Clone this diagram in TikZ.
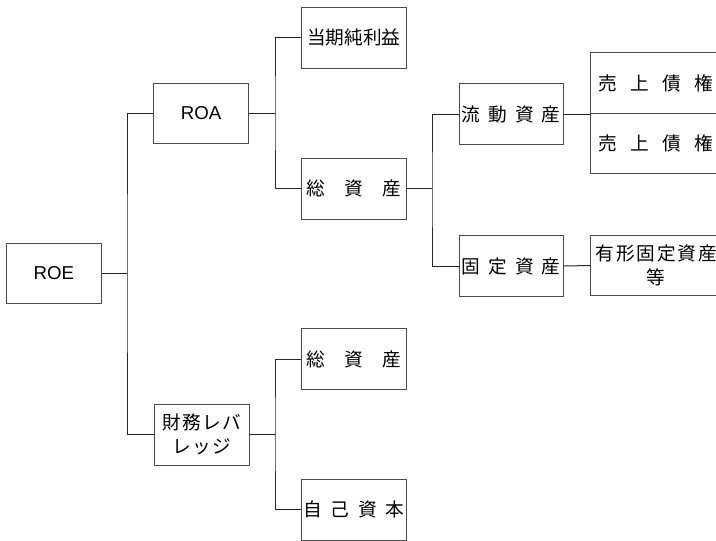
\documentclass[tikz,border=0pt]{standalone}
\usepackage{fontspec}
\setmainfont{Noto Sans CJK JP}
\newfontfamily\latfont{Liberation Sans}
\begin{document}
\begin{tikzpicture}[x=0.75pt,y=-0.75pt,
  box/.style={draw=black!70, line width=0.75pt, rectangle, inner sep=0pt, align=center,
              font=\fontsize{14pt}{18pt}\selectfont},
  lvtwo/.style={box, minimum width=71.25pt, minimum height=45.6pt},
  lvthree/.style={box, minimum width=78.2pt, minimum height=45.75pt},
  lvfour/.style={box, minimum width=78pt, minimum height=45.4pt},
  lvfive/.style={box, anchor=west, minimum height=45.5pt},
  conn/.style={draw=black!85, line width=0.75pt}]
\clip (0,0) rectangle (716,540);
\fill[white] (0,0) rectangle (716,540);

% level 1
\node[lvtwo, minimum height=45.2pt] (roe) at (53.8,273.2) {\latfont ROE};
% level 2
\node[lvtwo] (roa) at (201.2,113.5) {\latfont ROA};
\node[lvtwo] (lev) at (201.5,434.7) {財\kern1pt 務\kern1pt レ\kern1pt バ\\レ\kern1pt ッ\kern1pt ジ};
% level 3
\node[lvthree] (np)  at (353.9,37.8)  {当期純利益};
\node[lvthree] (ta1) at (353.9,188.8) {総\kern14.5pt 資\kern14.5pt 産};
\node[lvthree] (ta2) at (353.9,359.0) {総\kern14.5pt 資\kern14.5pt 産};
\node[lvthree] (eq)  at (353.9,509.8) {自\kern6.5pt 己\kern6.5pt 資\kern6.5pt 本};
% level 4
\node[lvfour] (ca) at (511.3,114.2) {流\kern6pt 動\kern6pt 資\kern6pt 産};
\node[lvfour] (fa) at (511.3,266.0) {固\kern6pt 定\kern6pt 資\kern6pt 産};
% level 5
\node[lvfive, text width=100pt, inner xsep=6pt, align=left] (ar1) at (590.3,83.0)
  {売\kern10pt 上\kern10pt 債\kern10pt 権};
\node[lvfive, text width=100pt, inner xsep=6pt, align=left] (ar2) at (590.3,143.65)
  {売\kern10pt 上\kern10pt 債\kern10pt 権};
\node[lvfive, text width=92pt, inner xsep=3pt, align=center] (ppe) at (590.3,265.5)
  {有\kern1.4pt 形\kern1.4pt 固\kern1.4pt 定\kern1.4pt 資\kern1.4pt 産\\等};

% bus coordinates
\coordinate (b1) at (127,273);
\coordinate (b2) at (275,113);
\coordinate (b3) at (275,434);
\coordinate (b4) at (432,189);

% connectors
\draw[conn] (roe.east) -- (roe.east -| b1);
\draw[conn] (roa.west) -| (b1) |- (lev.west);
\draw[conn] (roa.east) -- (roa.east -| b2);
\draw[conn] (np.west) -| (b2) |- (ta1.west);
\draw[conn] (lev.east) -- (lev.east -| b3);
\draw[conn] (ta2.west) -| (b3) |- (eq.west);
\draw[conn] (ta1.east) -- (ta1.east -| b4);
\draw[conn] (ca.west) -| (b4) |- (fa.west);
\draw[conn] (ca.east) -- (ca.east -| ar1.south west);
\draw[conn] (fa.east) -- (ppe.west);
\end{tikzpicture}
\end{document}
